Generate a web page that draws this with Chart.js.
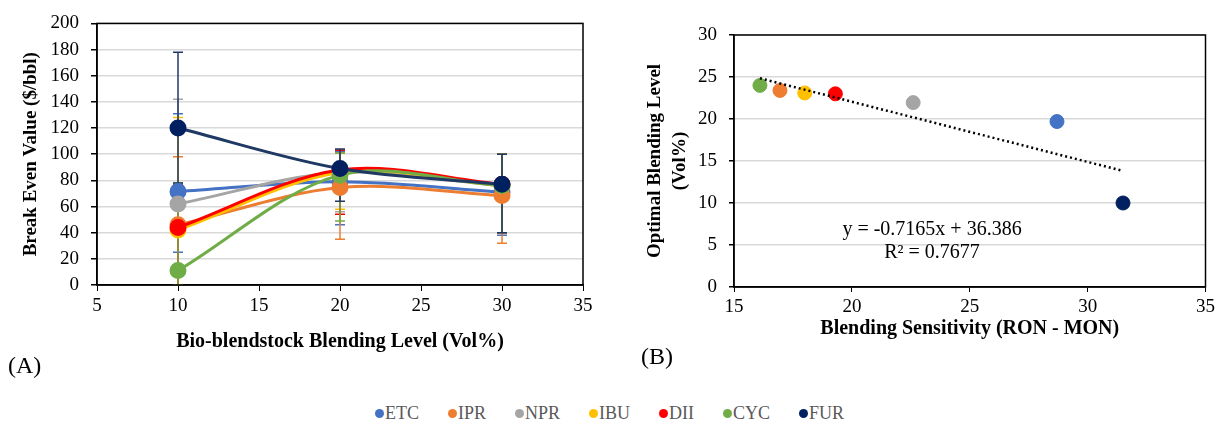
<!DOCTYPE html>
<html>
<head>
<meta charset="utf-8">
<script src="https://cdn.jsdelivr.net/npm/chart.js@4.4.1/dist/chart.umd.min.js"></script>
<style>
  body { margin: 0; background: #fff; font-family: "Liberation Serif", serif; }
  #page { position: relative; width: 1219px; height: 423px; overflow: hidden; }
  canvas { position: absolute; top: 0; }
  .tag { position: absolute; font-size: 24px; line-height: 1; color: #000; }
  #legend { position: absolute; left: 0; width: 1219px; top: 403px; display: flex; justify-content: center; gap: 29px; font-size: 18px; line-height: 20px; color: #595959; }
  .item { display: flex; align-items: center; }
  .dot { width: 9px; height: 9px; border-radius: 50%; margin-right: 1px; }
</style>
</head>
<body>
<div id="page">
  <canvas id="leftChart" width="600" height="360" style="left:0"></canvas>
  <canvas id="rightChart" width="599" height="360" style="left:620px"></canvas>
  <div class="tag" style="left:8px;top:353px">(A)</div>
  <div class="tag" style="left:641px;top:344px">(B)</div>
  <div id="legend"></div>
</div>
<script>
// Series names and colours
const series = ['ETC', 'IPR', 'NPR', 'IBU', 'DII', 'CYC', 'FUR'];
const colors = ['#4472c4', '#ed7d31', '#a5a5a5', '#ffc000', '#ff0000', '#70ad47', '#002060'];
const lineColors = ['#4472c4', '#ed7d31', '#a5a5a5', '#ffc000', '#ff0000', '#70ad47', '#1f3864'];

// (A) break even value vs blending level
const levels = [10, 20, 30];
const etcValue = [71.5, 79, 71];
const iprValue = [46, 74.5, 68.5];
const nprValue = [62, 86, 76];
const ibuValue = [42, 86, 76];
const diiValue = [44, 88, 77];
const cycValue = [11, 84, 76];
const furValue = [120, 89, 77];

// error bar ends (upper / lower)
const etcHigh = [131, 102, 100], etcLow = [25, 46, 38];
const iprHigh = [98, 101, 100], iprLow = [0, 35, 32];
const nprHigh = [142, 103, 100], nprLow = [0, 56, 40];
const ibuHigh = [128, 103, 100], ibuLow = [0, 58, 40];
const diiHigh = [77, 103, 100], diiLow = [0, 54, 40];
const cycHigh = [78, 101, 100], cycLow = [0, 49, 40];
const furHigh = [178, 104, 100], furLow = [78, 64, 40];

// (B) optimal blending level vs blending sensitivity
const sensitivity = [28.7, 16.95, 22.6, 18.0, 19.3, 16.1, 31.5];
const optimalLevel = [19.7, 23.4, 21.95, 23.1, 23.0, 24.0, 10.0];
const trendX = [16.1, 31.4];
const trendSlope = -0.7165;
const trendIntercept = 36.386;
const trendText = ['y = -0.7165x + 36.386', 'R² = 0.7677'];
const trendTextAt = [23.4, 6.85];

const values = [etcValue, iprValue, nprValue, ibuValue, diiValue, cycValue, furValue];
const highs = [etcHigh, iprHigh, nprHigh, ibuHigh, diiHigh, cycHigh, furHigh];
const lows = [etcLow, iprLow, nprLow, ibuLow, diiLow, cycLow, furLow];

Chart.defaults.font.family = "'Liberation Serif', 'Times New Roman', serif";
Chart.defaults.color = '#000';

const tickFont = { size: 19 };
const titleFont = { size: 19, weight: 'bold' };
const xTitleFont = { size: 20, weight: 'bold' };

// error bars, drawn under the lines
const errorBars = {
    id: 'errorBars',
    beforeDatasetsDraw(chart) {
        const { ctx, chartArea, scales: { x, y } } = chart;
        ctx.save();
        ctx.beginPath();
        ctx.rect(chartArea.left, chartArea.top - 2, chartArea.width, chartArea.height + 2);
        ctx.clip();
        chart.data.datasets.forEach(ds => {
            if (!ds.errHigh) return;
            ctx.strokeStyle = ds.borderColor;
            ctx.lineWidth = 1.5;
            ds.data.forEach((p, i) => {
                const px = x.getPixelForValue(p.x);
                const top = y.getPixelForValue(ds.errHigh[i]);
                const bot = y.getPixelForValue(ds.errLow[i]);
                ctx.beginPath();
                ctx.moveTo(px, top); ctx.lineTo(px, bot);
                ctx.moveTo(px - 5, top); ctx.lineTo(px + 5, top);
                ctx.moveTo(px - 5, bot); ctx.lineTo(px + 5, bot);
                ctx.stroke();
            });
        });
        ctx.restore();
    }
};

// black frame round the plot area
const frame = {
    id: 'frame',
    afterDraw(chart) {
        const { ctx, chartArea: a } = chart;
        ctx.save();
        ctx.strokeStyle = '#000';
        ctx.lineWidth = 1.5;
        ctx.strokeRect(a.left, a.top, a.right - a.left, a.bottom - a.top);
        ctx.restore();
    }
};

// trendline equation text
const equation = {
    id: 'equation',
    afterDatasetsDraw(chart) {
        const { ctx, scales: { x, y } } = chart;
        const cx = x.getPixelForValue(trendTextAt[0]);
        const cy = y.getPixelForValue(trendTextAt[1]);
        ctx.save();
        ctx.font = "20px 'Liberation Serif', serif";
        ctx.fillStyle = '#000';
        ctx.textAlign = 'center';
        ctx.textBaseline = 'middle';
        ctx.fillText(trendText[0], cx, cy);
        ctx.fillText(trendText[1], cx, cy + 23);
        ctx.restore();
    }
};

// (A)
new Chart(document.getElementById('leftChart'), {
    type: 'line',
    data: {
        datasets: series.map((name, i) => ({
            label: name,
            data: levels.map((lv, j) => ({ x: lv, y: values[i][j] })),
            errHigh: highs[i],
            errLow: lows[i],
            borderColor: lineColors[i],
            backgroundColor: colors[i],
            pointBackgroundColor: colors[i],
            pointBorderColor: colors[i],
            pointRadius: 7,
            borderWidth: 3,
            tension: 0.33,
            order: series.length - i
        }))
    },
    options: {
        responsive: false,
        animation: false,
        layout: { padding: { top: 22, right: 17, bottom: 0, left: 0 } },
        plugins: { legend: { display: false }, tooltip: { enabled: false } },
        scales: {
            x: {
                type: 'linear', min: 5, max: 35,
                ticks: { stepSize: 5, font: tickFont, padding: 4 },
                grid: { drawOnChartArea: false, tickLength: 6, tickColor: '#000' },
                border: { color: '#000', width: 1.5 },
                title: { display: true, text: 'Bio-blendstock Blending Level (Vol%)', font: xTitleFont, padding: { bottom: 6 } },
                afterFit(s) { s.height = 75; }
            },
            y: {
                min: 0, max: 200,
                ticks: { stepSize: 20, font: tickFont, padding: 12 },
                grid: { color: '#d9d9d9', lineWidth: 1.5, tickLength: 6, tickColor: '#000' },
                border: { color: '#000', width: 1.5 },
                title: { display: true, text: 'Break Even Value ($/bbl)', font: titleFont, padding: { top: 20 } },
                afterFit(s) { s.width = 97; }
            }
        }
    },
    plugins: [errorBars, frame]
});

// (B)
new Chart(document.getElementById('rightChart'), {
    type: 'scatter',
    data: {
        datasets: [
            {
                label: 'trend',
                type: 'line',
                data: trendX.map(v => ({ x: v, y: trendSlope * v + trendIntercept })),
                borderColor: '#000',
                borderWidth: 2.5,
                borderDash: [2, 3],
                pointRadius: 0,
                order: 1
            },
            {
                label: 'points',
                data: sensitivity.map((v, i) => ({ x: v, y: optimalLevel[i] })),
                pointBackgroundColor: colors,
                pointBorderColor: colors,
                pointRadius: 7,
                order: 2
            }
        ]
    },
    options: {
        responsive: false,
        animation: false,
        layout: { padding: { top: 35, right: 11, bottom: 0, left: 0 } },
        plugins: { legend: { display: false }, tooltip: { enabled: false } },
        scales: {
            x: {
                type: 'linear', min: 15, max: 35,
                ticks: { stepSize: 5, font: tickFont, padding: 4 },
                grid: { drawOnChartArea: false, tickLength: 5, tickColor: '#000' },
                border: { color: '#000', width: 1.5 },
                title: { display: true, text: 'Blending Sensitivity (RON - MON)', font: xTitleFont, padding: { bottom: 19 } },
                afterFit(s) { s.height = 73; }
            },
            y: {
                min: 0, max: 30,
                ticks: { stepSize: 5, font: tickFont, padding: 12 },
                grid: { color: '#d9d9d9', lineWidth: 1.5, tickLength: 5, tickColor: '#000' },
                border: { color: '#000', width: 1.5 },
                title: { display: true, text: ['Optimal Blending Level', '(Vol%)'], font: { size: 19, weight: 'bold', lineHeight: 1.3 }, padding: { top: 23 } },
                afterFit(s) { s.width = 114; }
            }
        }
    },
    plugins: [frame, equation]
});

// shared legend
const legend = document.getElementById('legend');
series.forEach((name, i) => {
    const item = document.createElement('div');
    item.className = 'item';
    const dot = document.createElement('span');
    dot.className = 'dot';
    dot.style.background = colors[i];
    const label = document.createElement('span');
    label.textContent = name;
    item.appendChild(dot);
    item.appendChild(label);
    legend.appendChild(item);
});
</script>
</body>
</html>
